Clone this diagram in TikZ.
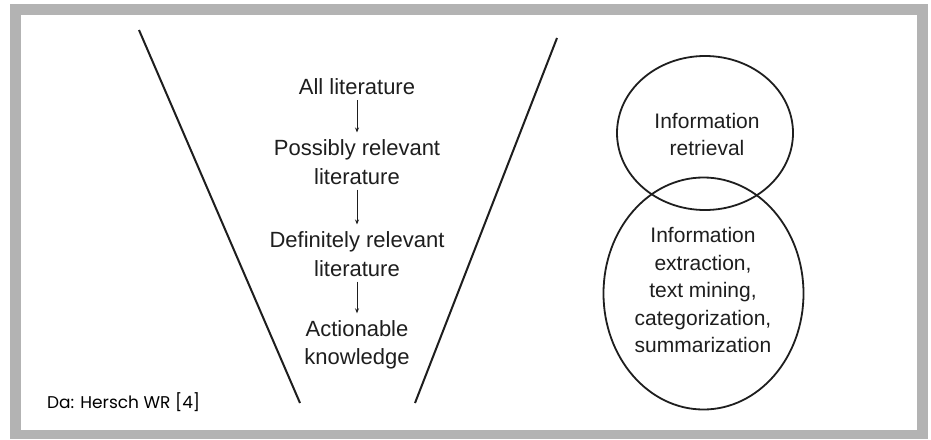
\documentclass[tikz,border=0pt]{standalone}
\usepackage{fontspec}
\setmainfont{Liberation Sans}
\newfontfamily\notefont{Poppins}
\usetikzlibrary{arrows.meta}
\definecolor{framegray}{RGB}{179,179,179}
\definecolor{ink}{RGB}{30,30,30}
\begin{document}
\begin{tikzpicture}[x=1pt,y=-1pt,
  label/.style={inner sep=0pt, align=center, text=ink,
    font=\fontsize{22}{28.5}\selectfont},
  circtext/.style={inner sep=0pt, align=center, text=ink,
    font=\fontsize{21}{27.5}\selectfont},
  flow/.style={draw=ink, line width=0.8pt,
    -{Stealth[length=5pt,width=4pt]}, shorten <=5pt, shorten >=7pt},
  funnel/.style={draw=ink, line width=2pt},
  ring/.style={draw=ink, line width=1.8pt}]
\useasboundingbox (0,0) rectangle (931,439);
% grey frame
\fill[framegray] (10,4) rectangle (928,439);
\fill[white] (21,15) rectangle (917,430);

% funnel sides
\draw[funnel] (139,30) -- (300,403);
\draw[funnel] (557,38) -- (415,403);

% funnel stages
\node[label] (all) at (357,87) {All literature};
\node[label] (poss) at (357,162) {Possibly relevant\\literature};
\node[label] (def) at (357,254) {Definitely relevant\\literature};
\node[label] (act) at (357,345) {Actionable\\knowledge};
\draw[flow] (all) -- (poss);
\draw[flow] (poss) -- (def);
\draw[flow] (def) -- (act);

% overlapping circles
\draw[ring] (705,133) ellipse [x radius=88pt, y radius=77pt];
\draw[ring] (703.5,293.5) ellipse [x radius=100pt, y radius=116pt];
\node[circtext] (ir) at (707,134.5) {Information\\retrieval};
\node[circtext] (ie) at (703,290) {Information\\extraction,\\text mining,\\categorization,\\summarization};

% source note
\node[anchor=west, inner sep=0pt, font=\notefont\fontsize{17}{19}\selectfont] (src) at (47,402) {Da: Hersch WR [4]};
\end{tikzpicture}
\end{document}
